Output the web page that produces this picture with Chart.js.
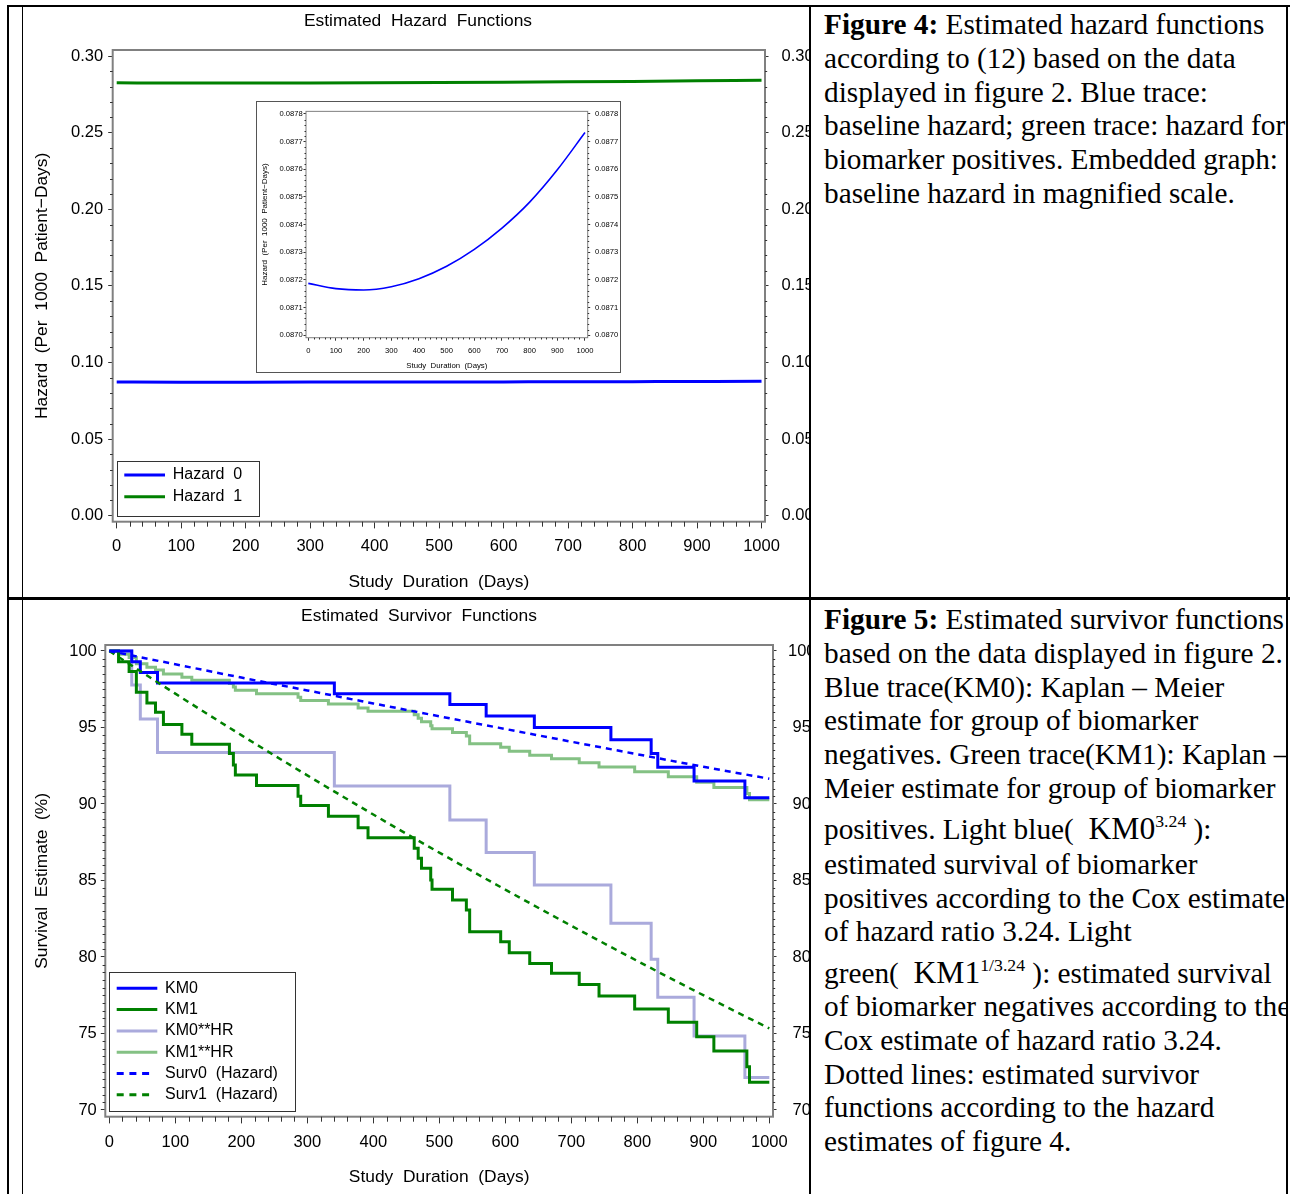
<!DOCTYPE html>
<html>
<head>
<meta charset="utf-8">
<script src="https://cdn.jsdelivr.net/npm/chart.js@4.4.1/dist/chart.umd.min.js"></script>
<style>
html,body{margin:0;padding:0;background:#fff;}
body{width:1292px;height:1194px;position:relative;overflow:hidden;}
.rule{position:absolute;background:#000;}
.clip{position:absolute;overflow:hidden;}
.clip canvas{position:absolute;left:0;top:0;}
.cell{position:absolute;left:812px;width:474px;overflow:hidden;font-family:"Liberation Serif","Times New Roman",serif;font-size:29.3px;color:#000;}
.ln{position:absolute;left:12px;white-space:nowrap;line-height:34px;height:34px;}
.ln .eq{font-size:1.08em;}
.ln sup{font-size:0.56em;line-height:0;vertical-align:0.7em;}
#insetBox{position:absolute;left:256px;top:101px;width:363px;height:270px;border:1px solid #555;background:#fff;}
#insetBox canvas{position:absolute;left:0;top:0;}
</style>
</head>
<body>

<div class="clip" style="left:23px;top:7px;width:786px;height:590px"><canvas id="c1" width="830" height="590"></canvas></div>
<div id="insetBox"><canvas id="c1i" width="363" height="270"></canvas></div>
<div class="clip" style="left:23px;top:600px;width:786px;height:594px"><canvas id="c2" width="830" height="594"></canvas></div>

<div class="cell" style="top:7px;height:590px">
  <div class="ln" style="top:0px"><b>Figure 4:</b> Estimated hazard functions</div>
  <div class="ln" style="top:34px">according to (12) based on the data</div>
  <div class="ln" style="top:68px">displayed in figure 2. Blue trace:</div>
  <div class="ln" style="top:101px">baseline hazard; green trace: hazard for</div>
  <div class="ln" style="top:135px">biomarker positives. Embedded graph:</div>
  <div class="ln" style="top:169px">baseline hazard in magnified scale.</div>
</div>

<div class="cell" style="top:600px;height:594px">
  <div class="ln" style="top:2px"><b>Figure 5:</b> Estimated survivor functions</div>
  <div class="ln" style="top:36px">based on the data displayed in figure 2.</div>
  <div class="ln" style="top:70px">Blue trace(KM0): Kaplan – Meier</div>
  <div class="ln" style="top:103px">estimate for group of biomarker</div>
  <div class="ln" style="top:137px">negatives. Green trace(KM1): Kaplan –</div>
  <div class="ln" style="top:171px">Meier estimate for group of biomarker</div>
  <div class="ln" style="top:212px">positives. Light blue(&nbsp; <span class="eq">KM0<sup>3.24</sup></span> ):</div>
  <div class="ln" style="top:247px">estimated survival of biomarker</div>
  <div class="ln" style="top:281px">positives according to the Cox estimate</div>
  <div class="ln" style="top:314px">of hazard ratio 3.24. Light</div>
  <div class="ln" style="top:356px">green(&nbsp; <span class="eq">KM1<sup>1/3.24</sup></span> ): estimated survival</div>
  <div class="ln" style="top:389px">of biomarker negatives according to the</div>
  <div class="ln" style="top:423px">Cox estimate of hazard ratio 3.24.</div>
  <div class="ln" style="top:457px">Dotted lines: estimated survivor</div>
  <div class="ln" style="top:490px">functions according to the hazard</div>
  <div class="ln" style="top:524px">estimates of figure 4.</div>
</div>

<div class="rule" style="left:7px;top:5px;width:1283px;height:2px"></div>
<div class="rule" style="left:7px;top:5px;width:2px;height:1189px"></div>
<div class="rule" style="left:22px;top:5px;width:1px;height:1189px"></div>
<div class="rule" style="left:809px;top:5px;width:2px;height:1189px"></div>
<div class="rule" style="left:1286px;top:5px;width:2px;height:1189px"></div>
<div class="rule" style="left:7px;top:597px;width:1283px;height:3px"></div>

<script>
// ================= DATA =================
// Figure 4: estimated hazard functions (per 1000 patient-days)
const hazDays = [0, 100, 200, 300, 400, 500, 600, 700, 800, 900, 1000];
const hazard0 = [0.087187, 0.087168, 0.087163, 0.087175, 0.087204, 0.087249, 0.087310, 0.087387, 0.087481, 0.087598, 0.087733];
const hazard1 = [0.28249, 0.28242, 0.28241, 0.28245, 0.28254, 0.28269, 0.28288, 0.28313, 0.28344, 0.28382, 0.28425];
const hazYTicks = [0, 0.05, 0.10, 0.15, 0.20, 0.25, 0.30];
const insetYTicks = [0.0870, 0.0871, 0.0872, 0.0873, 0.0874, 0.0875, 0.0876, 0.0877, 0.0878];
const dayTicks = [0, 100, 200, 300, 400, 500, 600, 700, 800, 900, 1000];

// Figure 5: estimated survivor functions (%)
const km0Days = [0, 34, 47, 73, 341, 516, 571, 644, 760, 821, 831, 886, 963, 1000];
const km0Surv = [100, 99.3, 98.6, 97.9, 97.2, 96.5, 95.75, 95.0, 94.2, 93.3, 92.4, 91.5, 90.4, 90.4];
const km1Days = [0, 14, 30, 41, 57, 70, 82, 110, 125, 182, 188, 191, 223, 286, 290, 332, 377, 392,
                 462, 468, 473, 487, 489, 520, 541, 546, 593, 606, 637, 670, 712, 742, 796, 847, 890, 916,
                 966, 970, 1000];
const km1Surv = [100, 99.3, 98.65, 97.3, 96.6, 96.0, 95.2, 94.55, 93.9, 93.3, 92.55, 91.9, 91.2, 90.5, 89.9, 89.2, 88.45, 87.8,
                 87.1, 86.45, 85.8, 85.03, 84.42, 83.73, 83.07, 81.65, 81.0, 80.28, 79.58, 78.93, 78.2, 77.45, 76.6, 75.73, 74.79, 73.86,
                 72.83, 71.81, 71.81];
const km0hrDays = [0, 34, 47, 73, 341, 516, 571, 644, 760, 821, 831, 886, 963, 1000];
const km0hrSurv = [100, 97.78, 95.56, 93.36, 91.18, 88.95, 86.82, 84.7, 82.2, 79.85, 77.37, 74.84, 72.13, 72.13];
const km1hrDays = [0, 14, 30, 41, 57, 70, 82, 110, 125, 182, 188, 191, 223, 286, 290, 332, 377, 392,
                   462, 468, 473, 487, 489, 520, 541, 546, 593, 606, 637, 670, 712, 742, 796, 847, 890, 916,
                   966, 970, 1000];
const km1hrSurv = [100, 99.78, 99.58, 99.16, 98.94, 98.75, 98.49, 98.29, 98.08, 97.88, 97.64, 97.43, 97.20, 96.97, 96.77, 96.53, 96.28, 96.06,
                   95.83, 95.61, 95.38, 95.12, 94.91, 94.67, 94.44, 93.93, 93.70, 93.45, 93.19, 92.96, 92.69, 92.42, 92.10, 91.78, 91.42, 91.07,
                   90.68, 90.28, 90.28];
const survDays = [0, 100, 200, 300, 400, 500, 600, 700, 800, 900, 1000];
const surv0 = [100, 99.13, 98.26, 97.42, 96.57, 95.73, 94.90, 94.07, 93.25, 92.43, 91.65];
const surv1 = [100, 97.21, 94.50, 91.87, 89.31, 86.82, 84.40, 82.04, 79.74, 77.50, 75.33];
const survYTicks = [70, 75, 80, 85, 90, 95, 100];

// ================= HELPERS =================
const FONT = "'Liberation Sans', Arial, Helvetica, sans-serif";
Chart.defaults.font.family = FONT;
Chart.defaults.color = '#000';

const pts = (xs, ys) => xs.map((x, i) => ({x: x, y: ys[i]}));

function axis(o) {
  return {
    type: 'linear', position: o.pos, axis: o.axis, min: o.min, max: o.max,
    afterBuildTicks(s) { s.ticks = o.ticks.map(v => ({value: v})); },
    afterFit(s) { if (o.w !== undefined) s.width = o.w; if (o.h !== undefined) s.height = o.h; },
    ticks: {autoSkip: false, maxRotation: 0, minRotation: 0, padding: o.pad, color: '#000',
            crossAlign: o.cross || 'near',
            font: {family: FONT, size: o.fs}, callback: o.fmt},
    grid: {display: true, drawOnChartArea: false, drawTicks: true, tickLength: o.tl, color: '#333', lineWidth: 1},
    border: {display: false},
    title: o.title ? {display: true, text: o.title, color: '#000', font: {family: FONT, size: o.tfs}, padding: o.tpad}
                   : {display: false}
  };
}

const framePlugin = {
  id: 'frame',
  afterDatasetsDraw(chart, args, o) {
    const a = chart.chartArea, ctx = chart.ctx;
    ctx.save();
    ctx.strokeStyle = o.color || '#777';
    ctx.lineWidth = o.width || 1.5;
    ctx.strokeRect(a.left, a.top, a.right - a.left, a.bottom - a.top);
    ctx.restore();
  }
};

const minorTicks = {
  id: 'minorTicks',
  afterDraw(chart, args, o) {
    const ctx = chart.ctx, a = chart.chartArea;
    ctx.save();
    ctx.strokeStyle = o.color || '#333';
    ctx.lineWidth = 1;
    ctx.beginPath();
    (o.items || []).forEach(it => {
      const sc = chart.scales[it.axis];
      const first = it.majors[0], last = it.majors[it.majors.length - 1];
      const n = Math.round((last - first) / it.step);
      for (let k = 0; k <= n; k++) {
        if (k % it.per === 0) continue;
        const p = Math.round(sc.getPixelForValue(first + k * it.step)) + 0.5;
        if (sc.isHorizontal()) { ctx.moveTo(p, a.bottom); ctx.lineTo(p, a.bottom + it.len); }
        else if (sc.position === 'left') { ctx.moveTo(a.left, p); ctx.lineTo(a.left - it.len, p); }
        else { ctx.moveTo(a.right, p); ctx.lineTo(a.right + it.len, p); }
      }
    });
    ctx.stroke();
    ctx.restore();
  }
};

const boxLegend = {
  id: 'boxLegend',
  afterDraw(chart, args, o) {
    if (!o || !o.box) return;
    const ctx = chart.ctx;
    ctx.save();
    ctx.fillStyle = '#fff';
    ctx.fillRect(o.box[0], o.box[1], o.box[2], o.box[3]);
    ctx.strokeStyle = '#333';
    ctx.lineWidth = 1;
    ctx.strokeRect(Math.round(o.box[0]) + 0.5, Math.round(o.box[1]) + 0.5, Math.round(o.box[2]), Math.round(o.box[3]));
    ctx.font = o.fs + 'px ' + FONT;
    ctx.textBaseline = 'middle';
    chart.data.datasets.forEach((ds, i) => {
      const y = o.y0 + i * o.dy;
      ctx.strokeStyle = ds.borderColor;
      ctx.lineWidth = 3;
      const dashed = ds.borderDash && ds.borderDash.length;
      ctx.setLineDash(dashed ? [7, 5.7] : []);
      ctx.beginPath();
      ctx.moveTo(o.x1, y);
      ctx.lineTo(dashed ? o.x1 + 33 : o.x2, y);
      ctx.stroke();
      ctx.setLineDash([]);
      ctx.fillStyle = '#000';
      ctx.fillText(ds.label, o.tx, y);
    });
    ctx.restore();
  }
};

const chartTitle = {
  id: 'chartTitle',
  afterDraw(chart, args, o) {
    if (!o || !o.text) return;
    const ctx = chart.ctx;
    ctx.save();
    ctx.font = o.size + 'px ' + FONT;
    ctx.fillStyle = '#000';
    ctx.textAlign = 'center';
    ctx.textBaseline = 'middle';
    ctx.fillText(o.text, o.x, o.y);
    ctx.restore();
  }
};

const PLUGINS = [framePlugin, minorTicks, boxLegend, chartTitle];
const base = {responsive: false, animation: false, devicePixelRatio: 1, events: []};

// ================= FIGURE 4 (main) =================
new Chart(document.getElementById('c1'), {
  type: 'line',
  data: {datasets: [
    {label: 'Hazard  0', data: pts(hazDays, hazard0), borderColor: '#0000ff', borderWidth: 3, pointRadius: 0,
     cubicInterpolationMode: 'monotone', xAxisID: 'x', yAxisID: 'y'},
    {label: 'Hazard  1', data: pts(hazDays, hazard1), borderColor: '#008000', borderWidth: 3, pointRadius: 0,
     cubicInterpolationMode: 'monotone', xAxisID: 'x', yAxisID: 'y'}
  ]},
  options: Object.assign({}, base, {
    layout: {padding: {top: 43, left: 0, right: 0, bottom: 0}},
    plugins: {
      legend: {display: false}, tooltip: {enabled: false},
      frame: {color: '#808080', width: 2},
      minorTicks: {items: [
        {axis: 'x', majors: dayTicks, step: 20, per: 5, len: 5},
        {axis: 'y', majors: hazYTicks, step: 0.01, per: 5, len: 2.7},
        {axis: 'yR', majors: hazYTicks, step: 0.01, per: 5, len: 2.2}
      ]},
      boxLegend: {box: [93.7, 453.7, 142, 54.6], y0: 468, dy: 21.7, x1: 101.3, x2: 142, tx: 149.7, fs: 16},
      chartTitle: {text: 'Estimated  Hazard  Functions', x: 395, y: 14.5, size: 17.4}
    },
    scales: {
      x: axis({pos: 'bottom', axis: 'x', min: -6.2, max: 1005.4, ticks: dayTicks, fmt: v => String(v), fs: 16.5,
               tl: 6.7, pad: 8.4, h: 75.3, title: 'Study  Duration  (Days)', tfs: 17.4, tpad: {top: 0, bottom: 4.6}}),
      y: axis({pos: 'left', axis: 'y', min: -0.00392, max: 0.30392, ticks: hazYTicks, fmt: v => v.toFixed(2), fs: 16.5,
               tl: 4.5, pad: 5, w: 89.7, title: 'Hazard  (Per  1000  Patient\u2212Days)', tfs: 17.4, tpad: {top: 8.8, bottom: 0}}),
      yR: axis({pos: 'right', axis: 'y', min: -0.00392, max: 0.30392, ticks: hazYTicks, fmt: v => v.toFixed(2), fs: 16.5,
                tl: 3.5, pad: 13, w: 88})
    }
  }),
  plugins: PLUGINS
});

// ================= FIGURE 4 (inset) =================
new Chart(document.getElementById('c1i'), {
  type: 'line',
  data: {datasets: [
    {label: 'Hazard  0', data: pts(hazDays, hazard0), borderColor: '#0000ff', borderWidth: 1.6, pointRadius: 0,
     cubicInterpolationMode: 'monotone', xAxisID: 'x', yAxisID: 'y'}
  ]},
  options: Object.assign({}, base, {
    layout: {padding: {top: 3, left: 0, right: 0, bottom: 0}},
    plugins: {
      legend: {display: false}, tooltip: {enabled: false},
      frame: {color: '#808080', width: 1},
      minorTicks: {items: [
        {axis: 'x', majors: dayTicks, step: 20, per: 5, len: 1.8},
        {axis: 'y', majors: insetYTicks, step: 0.00002, per: 5, len: 1.5},
        {axis: 'yR', majors: insetYTicks, step: 0.00002, per: 5, len: 1.5}
      ]}
    },
    scales: {
      x: axis({pos: 'bottom', axis: 'x', min: -8.3, max: 1009.8, ticks: dayTicks, fmt: v => String(v), fs: 7.6,
               tl: 3, pad: 5.7, h: 34.3, title: 'Study  Duration  (Days)', tfs: 7.8, tpad: {top: 0, bottom: 1.7}}),
      y: axis({pos: 'left', axis: 'y', min: 0.0869905, max: 0.0878095, ticks: insetYTicks, fmt: v => v.toFixed(4), fs: 7.6,
               tl: 2.5, pad: 0.8, w: 49, title: 'Hazard  (Per  1000  Patient\u2212Days)', tfs: 8, tpad: {top: 3.2, bottom: 0}}),
      yR: axis({pos: 'right', axis: 'y', min: 0.0869905, max: 0.0878095, ticks: insetYTicks, fmt: v => v.toFixed(4), fs: 7.6,
                tl: 2.5, pad: 4.8, w: 32.3})
    }
  }),
  plugins: PLUGINS
});

// ================= FIGURE 5 =================
const stepDs = (label, xs, ys, color, order) => ({label, data: pts(xs, ys), borderColor: color, borderWidth: 3,
  pointRadius: 0, stepped: 'before', order, xAxisID: 'x', yAxisID: 'y'});
const dashDs = (label, xs, ys, color, order) => ({label, data: pts(xs, ys), borderColor: color, borderWidth: 2.5,
  borderDash: [6, 5], pointRadius: 0, cubicInterpolationMode: 'monotone', order, xAxisID: 'x', yAxisID: 'y'});

new Chart(document.getElementById('c2'), {
  type: 'line',
  data: {datasets: [
    stepDs('KM0', km0Days, km0Surv, '#0000ff', 2),
    stepDs('KM1', km1Days, km1Surv, '#008000', 3),
    stepDs('KM0**HR', km0hrDays, km0hrSurv, '#aaaadc', 4),
    stepDs('KM1**HR', km1hrDays, km1hrSurv, '#84c184', 5),
    dashDs('Surv0  (Hazard)', survDays, surv0, '#0000ff', 0),
    dashDs('Surv1  (Hazard)', survDays, surv1, '#008000', 1)
  ]},
  options: Object.assign({}, base, {
    layout: {padding: {top: 45, left: 0, right: 0, bottom: 0}},
    plugins: {
      legend: {display: false}, tooltip: {enabled: false},
      frame: {color: '#808080', width: 2},
      minorTicks: {items: [
        {axis: 'x', majors: dayTicks, step: 20, per: 5, len: 5},
        {axis: 'y', majors: survYTicks, step: 0.5, per: 10, len: 2.7},
        {axis: 'yR', majors: survYTicks, step: 0.5, per: 10, len: 2.2}
      ]},
      boxLegend: {box: [86.3, 371.7, 186, 139], y0: 388.3, dy: 21.3, x1: 93.7, x2: 134.3, tx: 142, fs: 16},
      chartTitle: {text: 'Estimated  Survivor  Functions', x: 396, y: 16.5, size: 17.4}
    },
    scales: {
      x: axis({pos: 'bottom', axis: 'x', min: -6.06, max: 1005.6, ticks: dayTicks, fmt: v => String(v), fs: 16.5,
               tl: 6.7, pad: 8.7, h: 77.3, title: 'Study  Duration  (Days)', tfs: 17.4, tpad: {top: 0, bottom: 6.6}}),
      y: axis({pos: 'left', axis: 'y', min: 69.56, max: 100.39, ticks: survYTicks, fmt: v => String(v), fs: 16.5,
               tl: 4.5, pad: 4, w: 82.3, title: 'Survival  Estimate  (%)', tfs: 17.4, tpad: {top: 8.8, bottom: 0}}),
      yR: axis({pos: 'right', axis: 'y', min: 69.56, max: 100.39, ticks: survYTicks, fmt: v => String(v), fs: 16.5,
                tl: 3.5, pad: 11.5, w: 80, cross: 'center'})
    }
  }),
  plugins: PLUGINS
});
</script>
</body>
</html>
